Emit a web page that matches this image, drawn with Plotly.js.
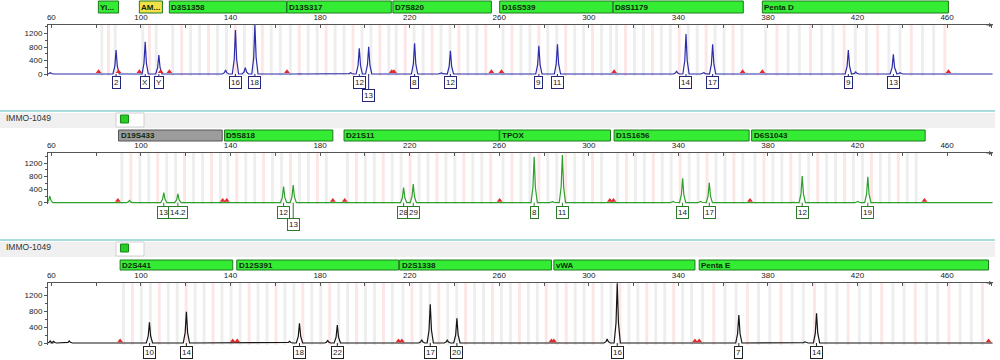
<!DOCTYPE html>
<html><head><meta charset="utf-8">
<script src="https://cdn.plot.ly/plotly-3.0.1.min.js"></script>
<style>html,body{margin:0;padding:0;background:#fff}#chart{width:1000px;height:360px}</style>
</head><body><div id="chart"></div>
<script>
// ---------- DATA ----------
const xTickVals = [60,100,140,180,220,260,300,340,380,420,460];
const xMinorVals = [80,120,160,200,240,280,320,360,400,440,480];
const yTickVals = [0,400,800,1200];
const yMinorVals = [200,600,1000,1400];

// Panel 1 (blue dye)
const loci1 = ['Yi...','AM...','D3S1358','D13S317','D7S820','D16S539','D8S1179','Penta D'];
const lociStart1 = [81,99.3,112.7,165.2,212.5,260.2,310.9,377.5];
const lociEnd1   = [90,109.6,165,211.8,256.5,310.7,369,460.6];
const lociUnit1  = [3,3,4,4,4,4,4,5];
const allelePos1 = [88.9,101.9,108,142.2,150.9,197.5,201.7,222.2,238.2,277.7,286,343.4,355.3,415.9,436];
const alleleHt1  = [711,957,563,1304,1450,761,810,910,690,838,880,1185,880,711,583];
const alleleLbl1 = ['2','X','Y','16','18','12','13','8','12','9','11','14','17','9','13'];
const minorPos1  = [59.5,137.8,146.6,170.8,193.6,234.2,281.7,339.2,351.4,419.2,439];
const minorHt1   = [40,120,190,20,40,30,20,80,40,60,40];
const redPos1    = [81.1,90,99.3,108.8,112.7,165.2,212,213,256.5,261,311.3,368.7,377.5,460.6];

// Panel 2 (green dye)
const loci2 = ['D19S433','D5S818','D21S11','TPOX','D1S1656','D6S1043'];
const lociStart2 = [90,137.3,190.7,260.2,311.3,372.7];
const lociEnd2   = [136.3,185.7,260,309.7,371.6,450.2];
const lociUnit2  = [4,4,4,4,4,4];
const allelePos2 = [110.2,116.5,163.7,168,217.3,221.6,275.6,288.2,341.9,353.8,395.3,424.6];
const alleleHt2  = [305,266,489,540,458,571,1405,1456,745,611,815,794];
const alleleLbl2 = ['13','14.2','12','13','28','29','8','11','14','17','12','19'];
const minorPos2  = [59.3,94.9,283.9,337.7,350,391,420.2];
const minorHt2   = [200,70,30,40,40,20,40];
const redPos2    = [89.7,136.5,138.3,185.7,191,260.2,309.4,311,372,449.9];

// Panel 3 (black dye)
const loci3 = ['D2S441','D12S391','D2S1338','vWA','Penta E'];
const lociStart3 = [90.7,142.8,215.5,284.4,349.3];
const lociEnd3   = [141,215.1,283.3,347.4,478.5];
const lociUnit3  = [4,4,4,4,5];
const allelePos3 = [103.8,120.3,170.8,187.7,229.2,241.1,312.7,367,401.7];
const alleleHt3  = [517,783,492,450,967,617,1493,700,742];
const alleleLbl3 = ['10','14','18','22','17','20','16','7','14'];
const minorPos3  = [59.5,61,68,166.4,183.4,225.4,236.8,308.2,396.5];
const minorHt3   = [50,40,50,40,60,80,70,100,30];
const redPos3    = [90.7,141,143,215,216.5,283.3,284.4,347.4,349.3,478.5];

// ---------- BUILD ----------
const P = py => 1 - py/360;
const FONT = 'Liberation Sans';
const panels = [
  {loci:loci1, ls:lociStart1, le:lociEnd1, lu:lociUnit1, ap:allelePos1, ah:alleleHt1, al:alleleLbl1, mp:minorPos1, mh:minorHt1, rp:redPos1,
   color:'#2c2ca8', boxColor:'#25257a', dom:[25,76], range:[-59,1452], bar:[1,13], lab:82.5, stag:96, base:74, stagIdx:[6],
   barColors:['#35ec35','#f2e04a','#35ec35','#35ec35','#35ec35','#35ec35','#35ec35','#35ec35'], redY:65},
  {loci:loci2, ls:lociStart2, le:lociEnd2, lu:lociUnit2, ap:allelePos2, ah:alleleHt2, al:alleleLbl2, mp:minorPos2, mh:minorHt2, rp:redPos2,
   color:'#2ea02e', boxColor:'#2a7a2a', dom:[153,204], range:[-40,1517], bar:[130,141], lab:212, stag:224, base:202.7, stagIdx:[3],
   barColors:['#9c9c9c','#35ec35','#35ec35','#35ec35','#35ec35','#35ec35'], redY:65},
  {loci:loci3, ls:lociStart3, le:lociEnd3, lu:lociUnit3, ap:allelePos3, ah:alleleHt3, al:alleleLbl3, mp:minorPos3, mh:minorHt3, rp:redPos3,
   color:'#151515', boxColor:'#222', dom:[283,345], range:[-50,1500], bar:[260,270], lab:352.5, stag:352.5, base:343, stagIdx:[],
   barColors:['#35ec35','#35ec35','#35ec35','#35ec35','#35ec35'], redY:52}
];

const XR = [58.5,480.5];
const traces = [], shapes = [], annotations = [];
const layout = {
  width:1000, height:360, margin:{l:0,r:0,t:0,b:0}, paper_bgcolor:'#fff', plot_bgcolor:'rgba(0,0,0,0)',
  showlegend:false, font:{family:FONT, size:8, color:'#222'}
};

panels.forEach((pn, k) => {
  const n = k===0 ? '' : String(k+1);
  const xa = 'x'+n, ya = 'y'+n;
  layout['xaxis'+n] = {
    domain:[0.048,0.993], range:XR, anchor:ya, side:'top', showline:true, linecolor:'#555', linewidth:1,
    ticks:'inside', ticklen:3, tickcolor:'#555', tickmode:'array', tickvals:xTickVals, ticktext:xTickVals.map(String),
    tickfont:{size:8, color:'#222', family:FONT}, ticklabelstandoff:1,
    minor:{tickmode:'array', tickvals:xMinorVals, ticks:'inside', ticklen:3, tickcolor:'#555'},
    showgrid:false, zeroline:false, fixedrange:true
  };
  layout['yaxis'+n] = {
    domain:[P(pn.dom[1]), P(pn.dom[0])], range:pn.range, anchor:xa, showline:true, linecolor:'#555', linewidth:1,
    ticks:'outside', ticklen:3, tickcolor:'#555', tickmode:'array', tickvals:yTickVals, ticktext:yTickVals.map(String),
    tickfont:{size:8, color:'#222', family:FONT},
    minor:{tickmode:'array', tickvals:yMinorVals, ticks:'outside', ticklen:2, tickcolor:'#555'},
    showgrid:false, zeroline:false, fixedrange:true
  };

  // bins (background stripes) within each locus
  pn.loci.forEach((name, i) => {
    let j = 0;
    for (let b = pn.ls[i] + 1.5; b < pn.le[i] - 0.5; b += pn.lu[i], j++) {
      shapes.push({type:'rect', xref:xa, yref:ya+' domain', x0:b-0.65, x1:b+0.65, y0:0, y1:1,
        fillcolor: (j%3===1) ? '#fce6e6' : '#eeeeee', line:{width:0}, layer:'below'});
    }
    // locus header bar
    shapes.push({type:'rect', xref:xa, yref:'paper', x0:pn.ls[i], x1:pn.le[i], y0:P(pn.bar[1]), y1:P(pn.bar[0]),
      fillcolor:pn.barColors[i], line:{color: pn.barColors[i]==='#9c9c9c' ? '#555' : '#1d7a1d', width:1}});
    annotations.push({xref:xa, yref:'paper', x:pn.ls[i], y:P((pn.bar[0]+pn.bar[1])/2), xanchor:'left', yanchor:'middle',
      xshift:1, showarrow:false, text:'<b>'+name+'</b>', height:9, borderpad:0, font:{size:8, color:'#0c2a0c', family:FONT}});
  });

  // electropherogram trace
  const pk = pn.ap.map((p,i)=>[p,pn.ah[i]]).concat(pn.mp.map((p,i)=>[p,pn.mh[i]])).sort((a,b)=>a[0]-b[0]);
  const xs = [XR[0]+0.2], ys = [0];
  pk.forEach(([p,h]) => { xs.push(p-1.4,p-0.55,p,p+0.55,p+1.4); ys.push(0,h*0.33,h,h*0.33,0); });
  xs.push(XR[1]-0.2); ys.push(0);
  traces.push({type:'scatter', mode:'lines', x:xs, y:ys, xaxis:xa, yaxis:ya, line:{color:pn.color, width:1.2}, hoverinfo:'skip'});

  // red markers
  traces.push({type:'scatter', mode:'markers', x:pn.rp, y:pn.rp.map(()=>pn.redY), xaxis:xa, yaxis:ya,
    marker:{symbol:'triangle-up', size:5, color:'#e22a2a'}, cliponaxis:false, hoverinfo:'skip'});

  // allele labels + connectors
  pn.ap.forEach((p,i) => {
    const st = pn.stagIdx.includes(i);
    const cy = st ? pn.stag : pn.lab;
    shapes.push({type:'line', xref:xa, yref:'paper', x0:p, x1:p, y0:P(pn.base), y1:P(cy-4.5), line:{color:pn.boxColor, width:1}});
    annotations.push({xref:xa, yref:'paper', x:p, y:P(cy), xanchor:'center', yanchor:'middle', showarrow:false,
      text:pn.al[i], font:{size:8, color:'#222', family:FONT}, bgcolor:'#fff', bordercolor:pn.boxColor, borderwidth:1, borderpad:1});
  });

  // arrow at the end of x axis
  annotations.push({xref:xa, yref:ya+' domain', x:XR[1], y:1, ax:-8, ay:0, showarrow:true, arrowhead:2, arrowsize:0.8,
    arrowwidth:1, arrowcolor:'#555', text:''});
});

// separators, sample header bands
[[111,113,128],[240,242,257]].forEach((s) => {
  const [lineY, b0, b1] = s;
  shapes.push({type:'rect', xref:'paper', yref:'paper', x0:0, x1:0.995, y0:P(b1), y1:P(b0), fillcolor:'#f0f0f0', line:{width:0}});
  shapes.push({type:'line', xref:'paper', yref:'paper', x0:0, x1:0.995, y0:P(lineY), y1:P(lineY), line:{color:'#a9dcdc', width:2}});
  shapes.push({type:'rect', xref:'paper', yref:'paper', x0:0.116, x1:0.144, y0:P(b1-1), y1:P(b0), fillcolor:'#fff', line:{color:'#d0d0d0', width:1}});
  shapes.push({type:'rect', xref:'paper', yref:'paper', x0:0.1205, x1:0.1285, y0:P(b0+10), y1:P(b0+2), fillcolor:'#27cc27', line:{color:'#138a13', width:1}});
  annotations.push({xref:'paper', yref:'paper', x:0.004, y:P(b0+5), xanchor:'left', yanchor:'middle', showarrow:false,
    text:'IMMO-1049', font:{size:8.5, color:'#333', family:FONT}});
});

layout.shapes = shapes;
layout.annotations = annotations;
Plotly.newPlot('chart', traces, layout, {staticPlot:true, displayModeBar:false});
</script>
</body></html>
